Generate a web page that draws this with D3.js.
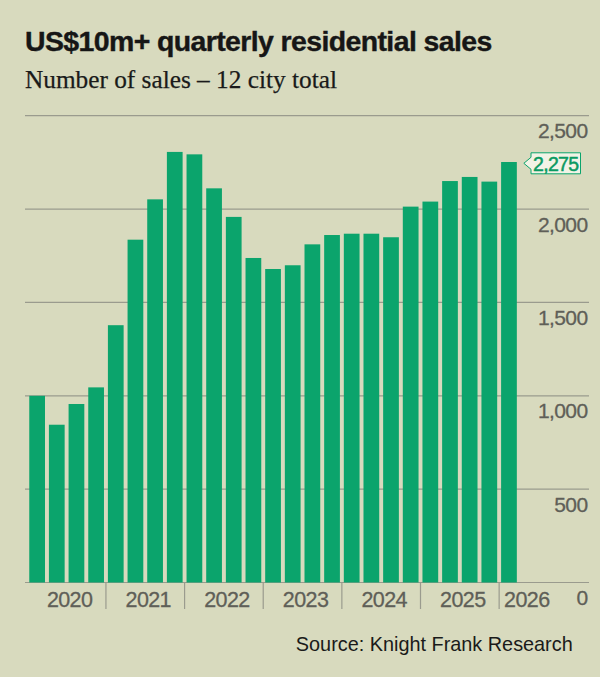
<!DOCTYPE html>
<html>
<head>
<meta charset="utf-8">
<script src="https://cdn.jsdelivr.net/npm/d3@7"></script>
<style>
  body { margin: 0; background: #d8dabe; }
  svg { display: block; }
</style>
</head>
<body>
<svg width="600" height="677"></svg>
<script>
// quarterly counts, Q1 2020 .. Q1 2026
var quarters = ["2020Q1","2020Q2","2020Q3","2020Q4","2021Q1","2021Q2","2021Q3","2021Q4",
  "2022Q1","2022Q2","2022Q3","2022Q4","2023Q1","2023Q2","2023Q3","2023Q4",
  "2024Q1","2024Q2","2024Q3","2024Q4","2025Q1","2025Q2","2025Q3","2025Q4","2026Q1"];
var sales = [1000, 845, 956, 1045, 1378, 1836, 2052, 2306, 2293, 2111, 1958, 1738,
  1679, 1699, 1811, 1861, 1868, 1868, 1849, 2013, 2040, 2150, 2172, 2147, 2252];
var years = ["2020","2021","2022","2023","2024","2025","2026"];
var yTicks = [0, 500, 1000, 1500, 2000, 2500];
var calloutText = "2,275";

var svg = d3.select("svg");
const width = +svg.attr("width");
const height = +svg.attr("height");

svg.append("rect").attr("width", width).attr("height", height).attr("fill", "#d8dabe");

var x = d3.scaleBand().domain(quarters).range([27.3, 518.8])
  .paddingInner(0.2).paddingOuter(0.1);
var y = d3.scaleLinear().domain([0, 2500]).range([582.5, 115.7]);

// fit text to a measured width
function fit(sel, w) {
  var len = sel.node().getComputedTextLength();
  var fs = parseFloat(sel.attr("font-size"));
  sel.attr("font-size", fs * w / len);
}

// title + subtitle
var title = svg.append("text").attr("x", 25).attr("y", 50.7)
  .attr("font-family", "Liberation Sans, Arial, sans-serif")
  .attr("font-weight", "bold").attr("font-size", 30).attr("fill", "#161616")
  .attr("letter-spacing", -0.6)
  .attr("stroke", "#161616").attr("stroke-width", 0.4)
  .text("US$10m+ quarterly residential sales");
fit(title, 468);

var sub = svg.append("text").attr("x", 25).attr("y", 88.3)
  .attr("font-family", "Liberation Serif, Times New Roman, serif")
  .attr("font-size", 26).attr("fill", "#1a1a1a")
  .attr("stroke", "#1a1a1a").attr("stroke-width", 0.25)
  .text("Number of sales \u2013 12 city total");
fit(sub, 312);

// gridlines
svg.append("g").selectAll("line").data(yTicks).join("line")
  .attr("x1", 25).attr("x2", 589)
  .attr("y1", d => y(d)).attr("y2", d => y(d))
  .attr("stroke", "#9a9b8e").attr("stroke-width", 1.2);

// y labels
svg.append("g").selectAll("text").data(yTicks).join("text")
  .attr("x", 587.5).attr("y", d => y(d) + 22.5)
  .attr("text-anchor", "end")
  .attr("font-family", "Liberation Sans, Arial, sans-serif")
  .attr("font-size", 21).attr("fill", "#5f5f58")
  .attr("stroke", "#5f5f58").attr("stroke-width", 0.3)
  .attr("letter-spacing", -0.6)
  .text(d => d3.format(",")(d));

// bars
svg.append("g").selectAll("rect").data(sales).join("rect")
  .attr("x", (d, i) => x(quarters[i]))
  .attr("width", x.bandwidth())
  .attr("y", d => y(d))
  .attr("height", d => y(0) - y(d))
  .attr("fill", "#0ba46c");

// year separators
var step = x.step();
var gap = step * x.paddingInner() / 2;
svg.append("g").selectAll("line").data(years.slice(1)).join("line")
  .attr("x1", d => x(d + "Q1") - gap).attr("x2", d => x(d + "Q1") - gap)
  .attr("y1", y(0)).attr("y2", 609)
  .attr("stroke", "#9a9b8e").attr("stroke-width", 1.2);

// year labels
svg.append("g").selectAll("text").data(years).join("text")
  .attr("x", function (d) {
    if (d === "2026") return x(d + "Q1") + 3;
    return x(d + "Q1") - gap + 2 * step + 3;
  })
  .attr("y", 607)
  .attr("text-anchor", d => d === "2026" ? "start" : "middle")
  .attr("font-family", "Liberation Sans, Arial, sans-serif")
  .attr("font-size", 21.5).attr("fill", "#5f5f58")
  .attr("stroke", "#5f5f58").attr("stroke-width", 0.3)
  .attr("letter-spacing", -0.6)
  .text(d => d);

// callout for last bar
var last = quarters[quarters.length - 1];
var lastY = y(sales[sales.length - 1]) + 1.3;
var tipX = x(last) + x.bandwidth() + 7;
var bx0 = 531, bx1 = 580.5, bh = 21;
svg.append("path")
  .attr("d", "M" + tipX + "," + lastY +
    "L" + bx0 + "," + (lastY - 6) +
    "L" + bx0 + "," + (lastY - bh / 2) +
    "L" + bx1 + "," + (lastY - bh / 2) +
    "L" + bx1 + "," + (lastY + bh / 2) +
    "L" + bx0 + "," + (lastY + bh / 2) +
    "L" + bx0 + "," + (lastY + 6) + "Z")
  .attr("fill", "#f2f3e6").attr("stroke", "#0ba46c").attr("stroke-width", 1);
svg.append("text").attr("x", (bx0 + bx1) / 2).attr("y", lastY + 7.3)
  .attr("text-anchor", "middle")
  .attr("font-family", "Liberation Sans, Arial, sans-serif")
  .attr("font-size", 19.5).attr("fill", "#0a9a62")
  .attr("stroke", "#0a9a62").attr("stroke-width", 0.5)
  .attr("letter-spacing", -0.7)
  .text(calloutText);

// source
var src = svg.append("text").attr("x", 572.7).attr("y", 650.7)
  .attr("text-anchor", "end")
  .attr("font-family", "Liberation Sans, Arial, sans-serif")
  .attr("font-size", 19.5).attr("fill", "#1a1a1a")
  .text("Source: Knight Frank Research");
fit(src, 277);
</script>
</body>
</html>
